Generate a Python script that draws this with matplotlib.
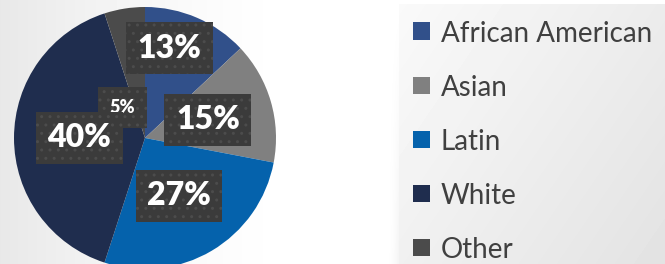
import numpy as np
import matplotlib.pyplot as plt
from matplotlib.patches import Rectangle

groups = ["African American", "Asian", "Latin", "White", "Other"]
shares = [13, 15, 27, 40, 5]
colors = ["#31508A", "#808080", "#0562AC", "#1F2D4E", "#4B4B4B"]

# label placement (radius fraction, angle override in degrees or None)
label_pos = [(0.71, 75), (0.5, None), (0.51, None), (0.5, None), (0.29, 127)]
label_size = [23, 23, 23, 23, 13]

W, H = 665, 264
fig = plt.figure(figsize=(W / 100, H / 100), dpi=100)

# background: light grey fading in from the left, legend panel with gradient
bg = fig.add_axes([0, 0, 1, 1], zorder=-10)
xx, yy = np.meshgrid(np.arange(W), np.arange(H))
img = 1 - 0.09 * np.clip(1 - xx / 300, 0, 1) ** 1.5
panel = (xx >= 399) & (yy >= 4)
u = np.clip((xx - 399) / 266, 0, 1)
v = np.clip((yy - 4) / 260, 0, 1)
img = np.where(panel, 0.978 - 0.09 * (0.6 * u + 0.4 * v), img)
shadow = (xx < 399) & (xx > 385) & (yy > 4)
img = np.where(shadow, img - 0.05 * ((xx - 385) / 14) ** 2 * (yy / H), img)
bg.imshow(img, cmap="gray", vmin=0, vmax=1, aspect="auto", interpolation="bilinear")
bg.axis("off")

# pie: centre at (145, 138) px, radius 131 px
cx, cy, r = 145, 138, 131
ax = fig.add_axes([(cx - r) / W, (H - cy - r) / H, 2 * r / W, 2 * r / H])
wedges, _ = ax.pie(shares, colors=colors, startangle=90, counterclock=False,
                   radius=1, wedgeprops=dict(linewidth=0))
ax.set_xlim(-1, 1)
ax.set_ylim(-1, 1)
ax.set_aspect("equal")
ax.axis("off")

plt.rcParams["hatch.color"] = "#4c4c4c"
plt.rcParams["hatch.linewidth"] = 1.0
for w, val, (rad, ang), fs in zip(wedges, shares, label_pos, label_size):
    if ang is None:
        ang = (w.theta1 + w.theta2) / 2
    x = rad * np.cos(np.radians(ang))
    y = rad * np.sin(np.radians(ang))
    pad = 0.36 if fs > 15 else 0.65
    ax.text(x, y, f"{val}%", ha="center", va="center", fontsize=fs,
            fontweight="heavy", family="Lato", color="white",
            zorder=4 if fs > 15 else 3,
            bbox=dict(boxstyle=f"square,pad={pad}", facecolor="#3b3b3b",
                      edgecolor="#4c4c4c", linewidth=0, hatch=".."))

# legend
leg_x, leg_y0, step, sq = 413, 31, 54, 17
for i, (g, c) in enumerate(zip(groups, colors)):
    y = leg_y0 + i * step
    fig.add_artist(Rectangle(((leg_x) / W, (H - y - sq / 2) / H), sq / W, sq / H,
                             transform=fig.transFigure, facecolor=c, linewidth=0))
    fig.text((leg_x + 28) / W, (H - y) / H, g, ha="left", va="center_baseline",
             fontsize=20, family="Lato", color="#404040")

fig.savefig("out.png", dpi=100)
